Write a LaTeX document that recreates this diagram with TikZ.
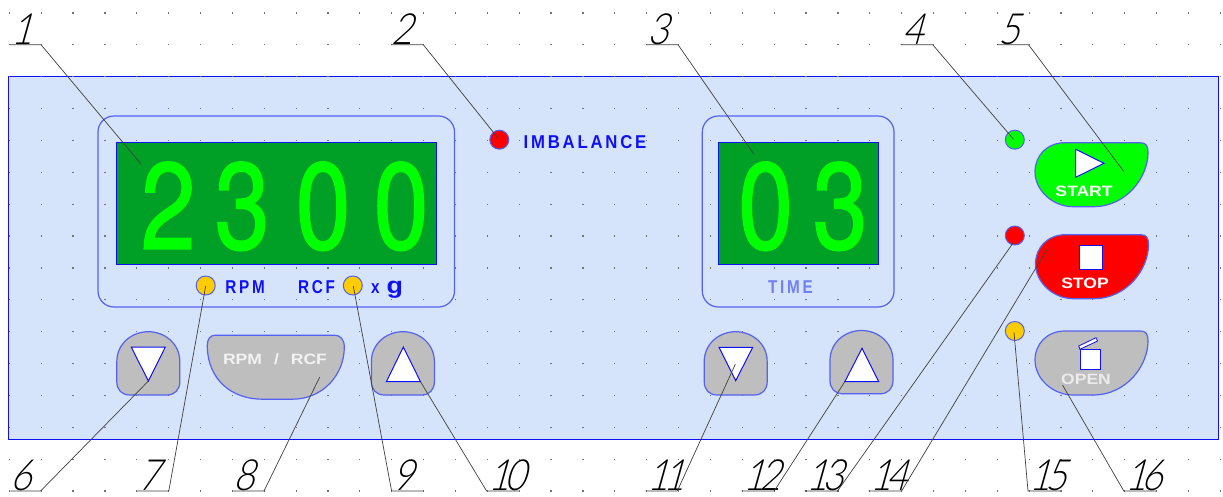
\documentclass[tikz,border=0pt]{standalone}
\usepackage{fontspec}
\setmainfont{Liberation Sans}
\newfontfamily\gost[FakeSlant=.28,FakeStretch=.85,LetterSpace=-14,UprightFont=* Light]{Lato}
\newfontfamily\lsp[LetterSpace=15,FakeStretch=.82]{Liberation Sans}
\newfontfamily\lspw[LetterSpace=15,FakeStretch=.9]{Liberation Sans}
\newfontfamily\widef[FakeStretch=1.17]{Liberation Sans}
\newfontfamily\dispf[FakeStretch=.8,FakeBold=1.2]{TeX Gyre Heros}
\definecolor{panelc}{HTML}{D5E4FB}
\definecolor{edgec}{HTML}{1010F5}
\definecolor{framec}{HTML}{5561F0}
\definecolor{screenc}{HTML}{009F25}
\definecolor{digitc}{HTML}{00FF00}
\definecolor{greyc}{HTML}{BEBEBE}
\definecolor{ledy}{HTML}{FFCC00}
\definecolor{timec}{HTML}{7080F0}
\tikzset{
  panel/.style={draw=edgec,fill=panelc,line width=1pt},
  frameb/.style={draw=framec,line width=1.2pt,rounded corners=16pt},
  screen/.style={draw=edgec,fill=screenc,line width=1pt},
  led/.style={circle,draw=framec,line width=1pt,minimum size=19pt,inner sep=0pt},
  btn/.style={draw=framec,line width=1.2pt,fill=greyc},
  sym/.style={draw=edgec,fill=white,line width=1pt},
  lbl/.style={font=\gost\fontsize{43}{43}\selectfont,anchor=base,inner sep=0pt,text=black},
  leader/.style={draw=black!75,line width=.7pt},
  captxt/.style={font=\fontsize{18.6}{18.6}\selectfont\lsp\bfseries,text=edgec,inner sep=0pt,anchor=base},
  keytxt/.style={font=\fontsize{15}{15}\selectfont\widef\bfseries,text=white,inner sep=0pt,anchor=base},
  disp/.style={font=\fontsize{123}{123}\selectfont\dispf,text=digitc,inner sep=0pt,anchor=base west},
}
\newcommand\domekey[3]{\path[btn,shift={(#2,#3)}] (0,30) .. controls (0,12) and (15,0) .. (31.5,0) .. controls (48,0) and (63,12) .. (63,30) -- (63,50) .. controls (63,58) and (58,63.3) .. (50,63.3) -- (13,63.3) .. controls (5,63.3) and (0,58) .. (0,50) -- cycle;\coordinate (#1) at (#2,#3);}
\newcommand\lobe[4]{\path[btn,fill=#4,shift={(#2,#3)}] (30,0) -- (105,0) .. controls (111,0) and (113,3) .. (113,10) .. controls (113,34) and (92,64) .. (58,64) -- (38,64) .. controls (18,64) and (0,48) .. (0,29) .. controls (0,13) and (12,0) .. (30,0) -- cycle;\coordinate (#1) at (#2,#3);}
% number, shelf left, shelf right, shelf y, label x, target x, target y
\newcommand\callR[7]{\coordinate (a#1) at (#2,#4);\coordinate (b#1) at (#3,#4);\coordinate (t#1) at (#6,#7);
  \node[lbl] (n#1) at (#5,#4-.5) {#1};\draw[leader] (a#1) -- (b#1) -- (t#1);}
\newcommand\callL[7]{\coordinate (a#1) at (#2,#4);\coordinate (b#1) at (#3,#4);\coordinate (t#1) at (#6,#7);
  \node[lbl] (n#1) at (#5,#4-.5) {#1};\draw[leader] (b#1) -- (a#1) -- (t#1);}
\begin{document}
\begin{tikzpicture}[x=1pt,y=-1pt]
\useasboundingbox (0,0) rectangle (1223,497);
\fill[white] (0,0) rectangle (1223,497);
\path[panel] (8.3,76.5) rectangle (1218.7,439);
\foreach \i in {0,...,38}\foreach \j in {0,...,15}
  \fill[black!55] ({9.3+31.87*\i-.6},{13+31.87*\j-.6}) rectangle ++(1.2,1.2);
% frames and screens
\path[frameb] (98,116) rectangle (454.5,307);
\path[frameb] (702.3,116) rectangle (894,307);
\path[screen] (116,142.5) rectangle (436,264.5);
\path[screen] (718,142.5) rectangle (878.3,264.5);
\node[disp] (d1) at (131,249) {\makebox[74pt]{2}\makebox[74pt]{3}\makebox[88pt]{0}\makebox[68pt]{0}};
\node[disp] (d2) at (730,249) {\makebox[71pt]{0}\makebox[78pt]{3}};
% LEDs
\node[led,fill=ledy] (l7) at (205.7,285.5) {};
\node[led,fill=ledy] (l9) at (352.8,285.5) {};
\node[led,fill=red] (l2) at (499.3,139.7) {};
\node[led,fill=digitc] (l4) at (1014.8,139.7) {};
\node[led,fill=red] (l13) at (1014.8,235.5) {};
\node[led,fill=ledy] (l15) at (1014.8,331) {};
% captions
\node[captxt] (c1) at (245,293) {RPM};
\node[captxt] (c2) at (316.5,293) {RCF};
\node[captxt,anchor=base west] (c3) at (371,293) {x\hspace{7pt}{\fontsize{23}{23}\selectfont\widef\bfseries g}};
\node[captxt,font=\fontsize{18.6}{18.6}\selectfont\lspw\bfseries] (c4) at (585,149) {IMBALANCE};
\node[captxt,text=timec] (c5) at (790.5,293) {TIME};
% keys
\domekey{k6}{116.8}{331.7}
\domekey{k10}{371.4}{331.7}
\domekey{k11}{704.2}{331.7}
\domekey{k12}{830}{330.5}
\path[btn,shift={(207.3,335.2)}] (0,10) .. controls (0,45) and (25,64) .. (55,64) -- (85,64) .. controls (115,64) and (137,40) .. (137,12) .. controls (137,4) and (133,0) .. (127,0) -- (8,0) .. controls (3,0) and (0,4) .. (0,10) -- cycle;
\node[keytxt,text=white!95!black] (k8t) at (275,364.5) {RPM\hspace{12pt}/\hspace{12pt}RCF};
\path[sym] (131.2,347) -- (165.3,347) -- (148.4,381) -- cycle;
\path[sym] (403.3,347) -- (386.4,381.7) -- (420.5,381.7) -- cycle;
\path[sym] (719,347.3) -- (752.7,347.3) -- (735.7,380.7) -- cycle;
\path[sym] (862,348.3) -- (844.8,381.7) -- (878.7,381.7) -- cycle;
\lobe{k5}{1035}{142.7}{digitc}
\lobe{k14}{1035.5}{234.7}{red}
\lobe{k16}{1035}{331}{greyc}
\path[sym] (1075.7,149.3) -- (1075.7,177.3) -- (1104,163.3) -- cycle;
\node[keytxt] (t5) at (1084,196.7) {START};
\path[sym] (1079.7,245.3) rectangle (1102.7,269.3);
\node[keytxt] (t14) at (1085,288.7) {STOP};
\path[sym] (1080.3,349.3) rectangle (1100.3,369.3);
\path[sym,line width=.8pt] (1078.7,346) -- (1096,337.7) -- (1097.6,341) -- (1079.9,349.3) -- cycle;
\node[keytxt,text=white!92!black] (t16) at (1086,384.5) {OPEN};
% callouts
\callR{1}{10}{41}{44.7}{22}{141}{164}
\callR{2}{391}{423.3}{44.7}{402}{498.3}{138.5}
\callR{3}{646}{678}{44.7}{658}{754}{154.3}
\callR{4}{900.7}{932.7}{44.7}{913}{1013.3}{139}
\callR{5}{997}{1028.5}{44.7}{1009}{1124}{171.7}
\callR{6}{10.3}{40.6}{491}{21}{148.4}{381}
\callR{7}{137}{168.8}{491}{149}{205.7}{286}
\callR{8}{232.5}{264}{491}{244}{319.6}{377.3}
\callL{9}{391.6}{423.6}{491}{403}{353.3}{286}
\callL{10}{486.6}{519}{491}{507}{420.5}{381.7}
\callR{11}{645.5}{677.3}{491}{666}{735.4}{364}
\callR{12}{741.6}{774.2}{491}{762}{844.8}{381.7}
\callR{13}{804.6}{837.5}{491}{825}{1013.3}{242.7}
\callR{14}{868.7}{901.6}{491}{889}{1046.7}{250}
\callL{15}{1028}{1060}{491}{1048}{1014}{332.3}
\callL{16}{1123.8}{1156}{491}{1144}{1062.5}{385}
\end{tikzpicture}
\end{document}
